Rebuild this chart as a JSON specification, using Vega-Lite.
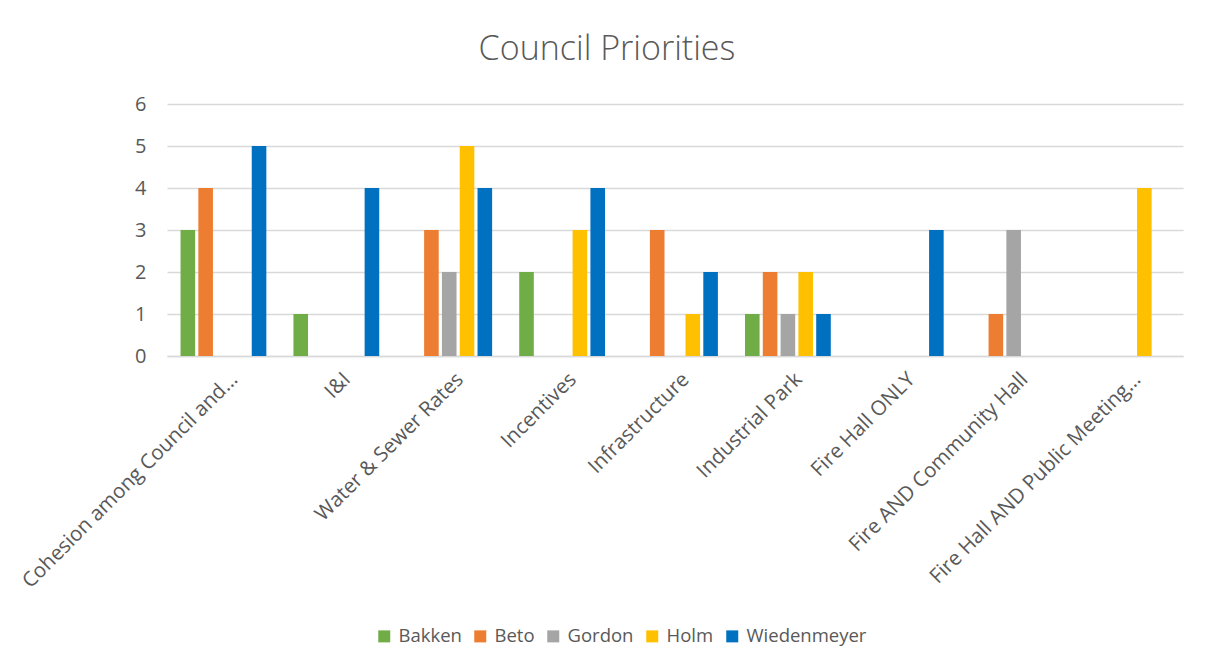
{
  "$schema": "https://vega.github.io/schema/vega-lite/v6.json",
  "width": 1016,
  "height": 252,
  "autosize": {"type": "none"},
  "padding": {"left": 167, "top": 104, "right": 23, "bottom": 313},
  "background": "white",
  "title": {
    "text": "Council Priorities",
    "fontSize": 34,
    "font": "Open Sans",
    "fontWeight": 300,
    "color": "#595959",
    "anchor": "middle",
    "dx": -68,
    "offset": 27
  },
  "data": {
    "values": [
      {"category": "Cohesion among Council and…", "member": "Bakken", "value": 3},
      {"category": "Cohesion among Council and…", "member": "Beto", "value": 4},
      {"category": "Cohesion among Council and…", "member": "Wiedenmeyer", "value": 5},
      {"category": "I&I", "member": "Bakken", "value": 1},
      {"category": "I&I", "member": "Wiedenmeyer", "value": 4},
      {"category": "Water & Sewer Rates", "member": "Beto", "value": 3},
      {"category": "Water & Sewer Rates", "member": "Gordon", "value": 2},
      {"category": "Water & Sewer Rates", "member": "Holm", "value": 5},
      {"category": "Water & Sewer Rates", "member": "Wiedenmeyer", "value": 4},
      {"category": "Incentives", "member": "Bakken", "value": 2},
      {"category": "Incentives", "member": "Holm", "value": 3},
      {"category": "Incentives", "member": "Wiedenmeyer", "value": 4},
      {"category": "Infrastructure", "member": "Beto", "value": 3},
      {"category": "Infrastructure", "member": "Holm", "value": 1},
      {"category": "Infrastructure", "member": "Wiedenmeyer", "value": 2},
      {"category": "Industrial Park", "member": "Bakken", "value": 1},
      {"category": "Industrial Park", "member": "Beto", "value": 2},
      {"category": "Industrial Park", "member": "Gordon", "value": 1},
      {"category": "Industrial Park", "member": "Holm", "value": 2},
      {"category": "Industrial Park", "member": "Wiedenmeyer", "value": 1},
      {"category": "Fire Hall ONLY", "member": "Wiedenmeyer", "value": 3},
      {"category": "Fire AND Community Hall", "member": "Beto", "value": 1},
      {"category": "Fire AND Community Hall", "member": "Gordon", "value": 3},
      {"category": "Fire Hall AND Public Meeting…", "member": "Holm", "value": 4}
    ]
  },
  "mark": {"type": "bar"},
  "encoding": {
    "x": {
      "field": "category",
      "type": "nominal",
      "sort": ["Cohesion among Council and…", "I&I", "Water & Sewer Rates", "Incentives", "Infrastructure", "Industrial Park", "Fire Hall ONLY", "Fire AND Community Hall", "Fire Hall AND Public Meeting…"],
      "scale": {"paddingInner": 0.24, "paddingOuter": 0.12},
      "axis": {
        "title": null,
        "labelAngle": -45,
        "labelAlign": "right",
        "labelBaseline": "middle",
        "labelFontSize": 20.5,
        "labelFont": "Open Sans",
        "labelColor": "#595959",
        "labelPadding": 20,
        "labelOffset": 11,
        "labelLimit": 500,
        "labelOverlap": false,
        "ticks": false,
        "domainColor": "#D9D9D9",
        "domainWidth": 1.5
      }
    },
    "xOffset": {
      "field": "member",
      "type": "nominal",
      "scale": {"domain": ["Bakken", "Beto", "Gordon", "Holm", "Wiedenmeyer"], "paddingInner": 0.18}
    },
    "y": {
      "field": "value",
      "type": "quantitative",
      "scale": {"domain": [0, 6]},
      "axis": {
        "title": null,
        "values": [0, 1, 2, 3, 4, 5, 6],
        "labelOverlap": false,
        "labelFontSize": 20,
        "labelFont": "Open Sans",
        "labelColor": "#595959",
        "labelPadding": 21,
        "ticks": false,
        "domain": false,
        "gridColor": "#D9D9D9",
        "gridWidth": 1.5
      }
    },
    "color": {
      "field": "member",
      "type": "nominal",
      "scale": {
        "domain": ["Bakken", "Beto", "Gordon", "Holm", "Wiedenmeyer"],
        "range": ["#70AD47", "#ED7D31", "#A5A5A5", "#FFC000", "#0070C0"]
      },
      "legend": {
        "title": null,
        "orient": "none",
        "legendX": 208,
        "legendY": 523,
        "direction": "horizontal",
        "symbolType": "square",
        "symbolSize": 144,
        "symbolStrokeWidth": 0,
        "labelFontSize": 18.5,
        "labelFont": "Open Sans",
        "labelColor": "#595959",
        "labelOffset": 5,
        "columnPadding": 9
      }
    }
  },
  "config": {"view": {"stroke": null}}
}
